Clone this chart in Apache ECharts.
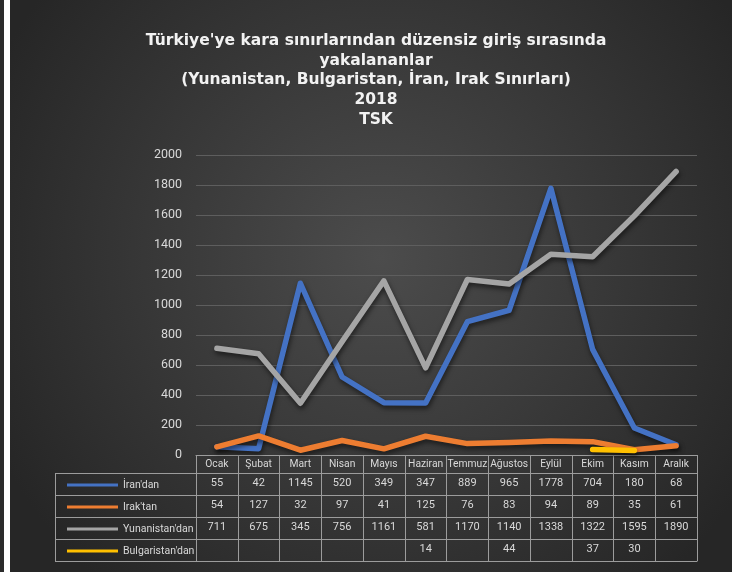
<!DOCTYPE html>
<html>
<head>
<meta charset="utf-8">
<script src="https://cdn.jsdelivr.net/npm/echarts@6/dist/echarts.min.js"></script>
<style>
html,body{margin:0;padding:0;background:#262626;}
#chart{width:732px;height:572px;}
</style>
</head>
<body>
<div id="chart"></div>
<script>
var months = ['Ocak','Şubat','Mart','Nisan','Mayıs','Haziran','Temmuz','Ağustos','Eylül','Ekim','Kasım','Aralık'];
var seriesNames = ["İran'dan","Irak'tan","Yunanistan'dan","Bulgaristan'dan"];
var iran = [55,42,1145,520,349,347,889,965,1778,704,180,68];
var irak = [54,127,32,97,41,125,76,83,94,89,35,61];
var yunanistan = [711,675,345,756,1161,581,1170,1140,1338,1322,1595,1890];
var bulgaristan = [null,null,null,null,null,14,null,44,null,37,30,null];
var yTicks = {min:0, max:2000, interval:200};
var colors = ['#4472C4','#ED7D31','#A5A5A5','#FFC000'];
var titleText = "Türkiye'ye kara sınırlarından düzensiz giriş sırasında\nyakalananlar\n(Yunanistan, Bulgaristan, İran, Irak Sınırları)\n2018\nTSK";

var borderColor = '#9c9c9c';
var textColor = '#d9d9d9';
var tableFont = "Roboto, 'Noto Sans'";
var rowValues = [iran, irak, yunanistan, bulgaristan];

var chart = echarts.init(document.getElementById('chart'), null, {renderer:'canvas'});

var xAxes = [{
  type:'category', data:months, position:'bottom', offset:0, boundaryGap:true,
  axisLine:{show:true, lineStyle:{color:borderColor, width:1}},
  axisTick:{show:true, length:18, interval:0, lineStyle:{color:borderColor, width:1}},
  axisLabel:{show:true, interval:0, margin:4, color:textColor, fontSize:10.3, fontFamily:tableFont, hideOverlap:false}
}];
rowValues.forEach(function(vals, r){
  xAxes.push({
    type:'category', data:months, position:'bottom', offset:18 + 22*r, boundaryGap:true,
    axisLine:{show:true, lineStyle:{color:borderColor, width:1}},
    axisTick:{show:true, length:22, interval:0, lineStyle:{color:borderColor, width:1}},
    axisLabel:{show:true, interval:0, margin:5, color:textColor, fontSize:11, fontFamily:tableFont, hideOverlap:false,
      formatter:(function(v){return function(val, idx){ return v[idx]==null ? '' : String(v[idx]); };})(vals)}
  });
});
xAxes.push({
  type:'category', data:months, position:'bottom', offset:18 + 22*4, boundaryGap:true,
  axisLine:{show:true, lineStyle:{color:borderColor, width:1}},
  axisTick:{show:false}, axisLabel:{show:false}
});

var shadow = {shadowColor:'rgba(0,0,0,0.55)', shadowBlur:5, shadowOffsetX:1, shadowOffsetY:3};
function mkSeries(name, data, color){
  return {
    name:name, type:'line', data:data, xAxisIndex:0, yAxisIndex:0,
    showSymbol:false, symbol:'none', connectNulls:false, smooth:false,
    color:color,
    lineStyle:Object.assign({color:color, width:5.5, cap:'round', join:'round'}, shadow),
    emphasis:{disabled:true}
  };
}

var leftX = 55, colX = 196;
var rowYs = [473, 495, 517, 539, 561];
var graphics = [
  {type:'rect', left:0, top:0, shape:{x:0,y:0,width:4,height:572}, style:{fill:'#2b2b2b'}, silent:true},
  {type:'rect', left:4, top:0, shape:{x:0,y:0,width:6,height:572}, style:{fill:'#ffffff'}, silent:true},
  {type:'line', shape:{x1:leftX+0.5,y1:rowYs[0],x2:leftX+0.5,y2:rowYs[4]}, style:{stroke:borderColor, lineWidth:1}, silent:true}
];
rowYs.forEach(function(y){
  graphics.push({type:'line', shape:{x1:leftX,y1:y+0.5,x2:colX,y2:y+0.5}, style:{stroke:borderColor, lineWidth:1}, silent:true});
});

var option = {
  animation:false,
  backgroundColor:{type:'radial', x:0.52, y:0.45, r:0.75, colorStops:[{offset:0,color:'#4c4c4c'},{offset:1,color:'#262626'}]},
  title:{
    text:titleText, left:371, textAlign:'center', top:26,
    textStyle:{color:'#f2f2f2', fontSize:15.5, fontWeight:'bold', fontFamily:'DejaVu Sans', lineHeight:19.7}
  },
  legend:{
    orient:'vertical', left:62, top:473, itemGap:8, itemWidth:51, itemHeight:3, icon:'rect',
    data:seriesNames, selectedMode:false,
    textStyle:{color:textColor, fontSize:10.5, fontFamily:tableFont, lineHeight:14}
  },
  grid:{left:196, right:35, top:155, bottom:117, containLabel:false},
  xAxis:xAxes,
  yAxis:{
    type:'value', min:yTicks.min, max:yTicks.max, interval:yTicks.interval,
    axisLine:{show:false}, axisTick:{show:false},
    axisLabel:{color:textColor, fontSize:12.5, margin:14, fontFamily:tableFont, formatter:function(v){return String(v);}},
    splitLine:{show:true, lineStyle:{color:'#5e5e5e', width:1}}
  },
  series:[
    mkSeries(seriesNames[0], iran, colors[0]),
    mkSeries(seriesNames[1], irak, colors[1]),
    mkSeries(seriesNames[2], yunanistan, colors[2]),
    mkSeries(seriesNames[3], bulgaristan, colors[3])
  ],
  graphic:graphics
};
chart.setOption(option);
</script>
</body>
</html>
